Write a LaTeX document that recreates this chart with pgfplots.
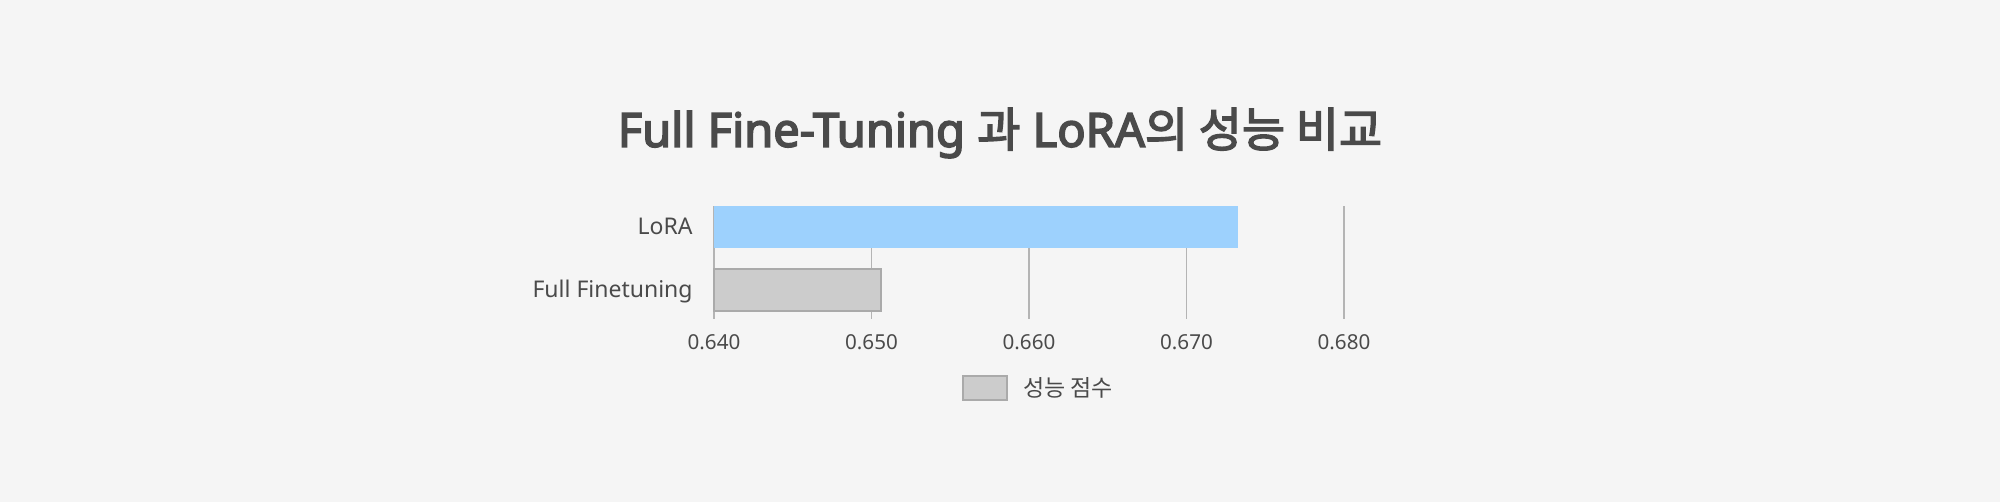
\documentclass[border=0pt]{standalone}
\usepackage{fontspec}
\setmainfont{Noto Sans}
\newfontfamily\kr{Noto Sans CJK KR}
\newfontfamily\tl{Noto Sans}[FakeBold=3.5]
\newfontfamily\tlkr{Noto Sans CJK KR}[FakeBold=3]
\usepackage{pgfplots}
\usepackage{pgfplotstable}
\pgfplotsset{compat=1.18}
\definecolor{bg}{HTML}{F5F5F5}
\definecolor{txt}{HTML}{4A4A4A}
\definecolor{lorablue}{HTML}{9DD1FD}
\definecolor{grayfill}{HTML}{CCCCCC}
\definecolor{grayedge}{HTML}{AAAAAA}
\definecolor{gridc}{HTML}{B4B4B4}
\pgfplotstableread{
y score
0 0.6506
}\fullft
\pgfplotstableread{
y score
1 0.6733
}\lora
\begin{document}
\begin{tikzpicture}
\path[use as bounding box, fill=bg] (0,0) rectangle (1000pt,251pt);
\node[anchor=base, text=txt, inner sep=0pt, font=\fontsize{23.5}{28}\selectfont\tl] at (500pt,177.6pt) {Full Fine-Tuning {\tlkr 과} LoRA{\tlkr 의 성능 비교}};
\begin{axis}[
  at={(357pt,91.5pt)}, anchor=south west,
  scale only axis, width=315pt, height=56.5pt,
  xmin=0, xmax=0.04, ymin=-0.46, ymax=1.333,
  clip=false,
  axis line style={draw=none},
  major tick length=0pt,
  tick style={draw=none},
  scaled x ticks=false,
  xtick={0,0.01,0.02,0.03,0.04},
  xticklabels={0.640,0.650,0.660,0.670,0.680},
  ytick={0,1},
  yticklabels={Full Finetuning,LoRA},
  xmajorgrids,
  grid style={draw=gridc, line width=0.85pt},
  xticklabel style={anchor=base, yshift=-15.5pt, inner sep=0pt, text=txt, font=\fontsize{10.3}{12}\selectfont},
  yticklabel style={anchor=base east, xshift=-10.5pt, yshift=-3.8pt, inner sep=0pt, text=txt, font=\fontsize{11.5}{13}\selectfont},
  xbar, bar width=21pt,
  legend style={at={(0.3937,-0.615)}, anchor=west, draw=none, fill=none, inner sep=0pt, outer sep=0pt,
    font=\fontsize{11.5}{13}\selectfont\kr, text=txt,
    column sep=7.5pt, nodes={inner sep=0pt}},
  legend image code/.code={\draw[fill=grayfill, draw=grayedge, line width=1pt] (0pt,-6pt) rectangle (22pt,6pt);},
]
\addplot[bar shift=0pt, fill=grayfill, draw=grayedge, line width=1pt] table[x expr=\thisrow{score}-0.64, y=y] {\fullft};
\addlegendentry{성능 점수}
\addplot[bar shift=0pt, fill=lorablue, draw=none] table[x expr=\thisrow{score}-0.64, y=y] {\lora};
\end{axis}
\end{tikzpicture}
\end{document}
